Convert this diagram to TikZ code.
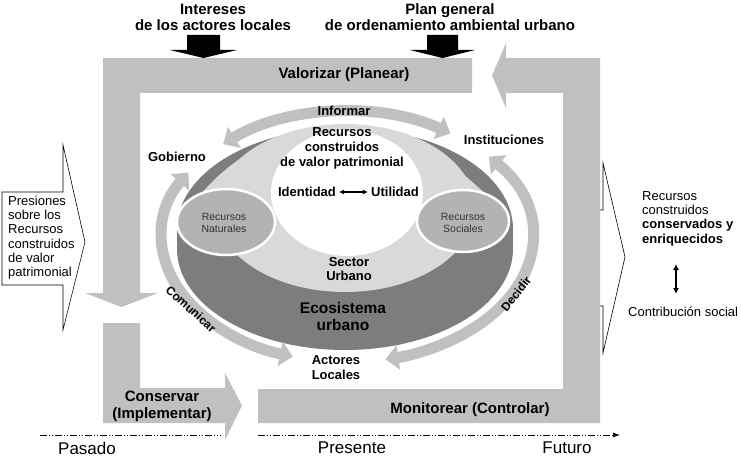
\documentclass[tikz,border=0pt]{standalone}
\usepackage{fontspec}
\setmainfont{Liberation Sans}
\usetikzlibrary{arrows.meta}
\definecolor{frameg}{HTML}{C0C0C0}
\definecolor{darkg}{HTML}{7D7D7D}
\definecolor{lightg}{HTML}{D9D9D9}
\definecolor{midg}{HTML}{B3B3B3}
\definecolor{txtg}{HTML}{333333}
\begin{document}
\begin{tikzpicture}[x=1pt,y=-1pt,
  bigt/.style={font=\bfseries\fontsize{15}{16}\selectfont, align=center, inner sep=0},
  bart/.style={font=\bfseries\fontsize{15}{17}\selectfont, align=center, inner sep=0},
  inl/.style={font=\bfseries\fontsize{13}{15}\selectfont, align=center, inner sep=0},
  eco/.style={font=\bfseries\fontsize{15.5}{17}\selectfont, align=center, inner sep=0},
  smallt/.style={font=\fontsize{10.5}{12}\selectfont, text=txtg, align=center, inner sep=0},
  side/.style={font=\fontsize{13}{14.3}\selectfont, align=left, inner sep=0},
  timet/.style={font=\fontsize{17}{18}\selectfont, inner sep=0},
  band/.style={draw=frameg, line width=11pt, {Triangle[length=13pt,width=24pt]}-{Triangle[length=13pt,width=24pt]}},
  axisline/.style={line width=0.8pt, dash pattern=on 7pt off 2pt on 1pt off 2pt on 1pt off 2pt},
  callout/.style={draw=black, fill=white, line width=0.6pt},
  res/.style={fill=midg, draw=white, line width=2.5pt},
]
\useasboundingbox (0,0) rectangle (741,457);

% ---------- gray frame ----------
\fill[frameg] (103,58) -- (472,58) -- (472,93) -- (140,93) -- (140,293) -- (158,293)
  -- (121.5,307) -- (85,293) -- (103,293) -- cycle;
\fill[frameg] (103,323) -- (140,323) -- (140,388) -- (225,388) -- (225,373) -- (242,405.5)
  -- (225,440) -- (225,423) -- (103,423) -- cycle;
% right callout (body hidden under column)
\draw[callout] (575,210) -- (603,210) -- (603,163) -- (625,257) -- (603,353) -- (603,306) -- (575,306) -- cycle;
\fill[frameg] (258,389) -- (563,389) -- (563,93) -- (506,93) -- (506,108) -- (492,75.5)
  -- (506,43) -- (506,58) -- (600,58) -- (600,423) -- (258,423) -- cycle;

% left callout
\draw[callout] (2,192) -- (63,192) -- (63,145) -- (85,242) -- (63,330) -- (63,285) -- (2,285) -- cycle;
\node[side, anchor=west] (pres) at (8,237.5) {Presiones\\sobre los\\Recursos\\construidos\\de valor\\patrimonial};

% ---------- top inputs ----------
\node[bigt] (inter) at (213,17) {Intereses\\de los actores locales};
\node[bigt] (plan) at (450,17) {Plan general\\de ordenamiento ambiental urbano};
\fill (187,35) -- (220,35) -- (220,50) -- (237,50) -- (203.5,58) -- (170,50) -- (187,50) -- cycle;
\fill (427,35) -- (458,35) -- (458,50) -- (475,50) -- (442.5,58) -- (410,50) -- (427,50) -- cycle;

% bar labels
\node[bart] (valor) at (344,75) {Valorizar (Planear)};
\node[bart] (monit) at (470,410) {Monitorear (Controlar)};
\node[bart] (conse) at (162,406.5) {Conservar\\(Implementar)};

% ---------- ecosystem disc ----------
\fill[darkg] (345,229) ellipse [x radius=168pt, y radius=101pt];
\fill[darkg] (345,249) ellipse [x radius=168pt, y radius=101pt];
\fill[darkg] (177,229) rectangle (513,249);
\fill[lightg] (345,208) ellipse [x radius=130pt, y radius=84pt];
\fill[lightg] (345,129) .. controls (275,129) and (228,158) .. (192,205) -- (496,205)
  .. controls (455,160) and (400,129) .. (345,129) -- cycle;
\fill[white] (347,193) ellipse [x radius=76pt, y radius=63pt];
\draw[res] (226,222) ellipse [x radius=49pt, y radius=33pt];
\draw[res] (463,221) ellipse [x radius=46pt, y radius=31pt];
\node[smallt] (nat) at (224,223) {Recursos\\Naturales};
\node[smallt] (soc) at (463,223) {Recursos\\Sociales};

% ---------- circular arrows ----------
\coordinate (ec) at (347,237);
\draw[band] ([shift={(132:185pt and 125pt)}]ec) arc[start angle=132, end angle=56, x radius=185pt, y radius=125pt];
\draw[band] ([shift={(149:185pt and 125pt)}]ec) arc[start angle=149, end angle=253, x radius=185pt, y radius=125pt];
\draw[band] ([shift={(40:185pt and 125pt)}]ec) arc[start angle=40, end angle=-78, x radius=185pt, y radius=125pt];

% ---------- inner labels ----------
\node[inl] (inf) at (344,111) {Informar};
\node[inl] (gob) at (177,157) {Gobierno};
\node[inl] (inst) at (504,140) {Instituciones};
\node[inl] (rcv) at (342,148) {Recursos\\construidos\\de valor patrimonial};
\node[inl] (ident) at (307,192) {Identidad};
\node[inl] (util) at (395,192) {Utilidad};
\draw[line width=1.2pt, {Latex[length=5pt,width=5pt]}-{Latex[length=5pt,width=5pt]}]
  ([xshift=3pt]ident.east) -- ([xshift=-3pt]util.west);
\node[inl, font=\bfseries\fontsize{13}{14}\selectfont] (sect) at (349,269) {Sector\\Urbano};
\node[eco] (ecos) at (343,316.5) {Ecosistema\\urbano};
\node[inl] (act) at (336,367.5) {Actores\\Locales};
\node[inl, font=\bfseries\fontsize{12}{13}\selectfont, rotate=-42] (com) at (191,309) {Comunicar};
\node[inl, font=\bfseries\fontsize{12}{13}\selectfont, rotate=52] (dec) at (516,294) {Decidir};

% ---------- right side ----------
\node[side, anchor=west] (rcc) at (642,218.5) {Recursos\\construidos\\\textbf{conservados y}\\\textbf{enriquecidos}};
\node[side, anchor=west] (contr) at (628,312) {Contribución social};
\coordinate (da1) at (676,264);
\coordinate (da2) at (676,294);
\draw[line width=1.5pt, {Latex[length=6pt,width=6pt]}-{Latex[length=6pt,width=6pt]}] (da1) -- (da2);

% ---------- time axis ----------
\coordinate (ax1) at (40,435);
\coordinate (ax2) at (221,435);
\coordinate (ax3) at (258,435);
\coordinate (ax4) at (620,435);
\draw[axisline] (ax1) -- (ax2);
\draw[axisline, -{Latex[length=7pt,width=5pt]}] (ax3) -- (ax4);
\node[timet] (pas) at (87,448) {Pasado};
\node[timet] (prs) at (352,448) {Presente};
\node[timet] (fut) at (567,448) {Futuro};
\end{tikzpicture}
\end{document}
